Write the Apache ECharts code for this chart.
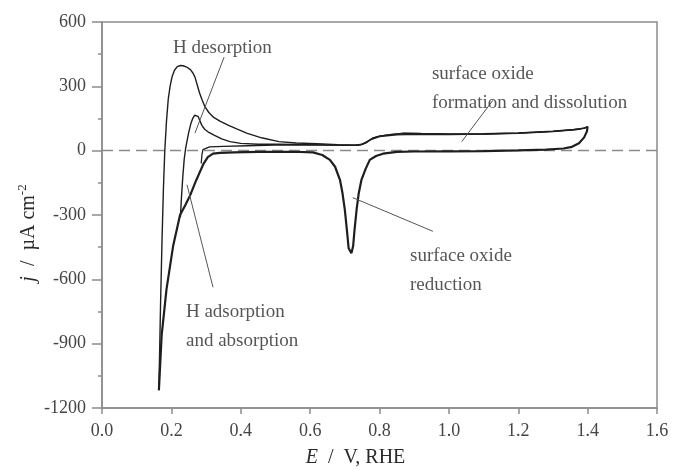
<!DOCTYPE html>
<html><head><meta charset="utf-8">
<script src="https://cdn.jsdelivr.net/npm/echarts@6/dist/echarts.min.js"></script>
<style>html,body{margin:0;padding:0;background:#fff}#c{width:673px;height:470px}</style>
</head><body><div id="c"></div>
<script>
// ---- data (E in V vs RHE, j in µA cm^-2) ----
const xTicks = [0.0,0.2,0.4,0.6,0.8,1.0,1.2,1.4,1.6];
const yTicks = [-1200,-900,-600,-300,0,300,600];

// outer cycle, anodic branch (lower limit ~0.164 V)
const outerAnodicE = [0.164,0.166,0.169,0.173,0.177,0.181,0.186,0.191,0.196,0.202,0.209,0.217,0.226,0.234,0.244,0.255,0.263,0.268,0.274,0.281,0.289,0.297,0.308,0.322,0.340,0.365,0.390,0.417,0.46,0.51,0.56,0.62,0.68,0.73,0.75,0.765,0.78,0.80,0.83,0.87,0.92,1.0,1.1,1.2,1.3,1.36,1.39,1.40];
const outerAnodicJ = [-1117,-950,-700,-420,-180,0,140,240,297,345,375,392,397,396,390,378,360,343,310,270,235,204,178,155,138,118,100,82,60,42,36,32,28,26,30,42,58,68,74,80,79,77,78,82,90,98,104,112];

// middle cycle, anodic branch (lower limit ~0.226 V)
const midAnodicE = [0.226,0.229,0.233,0.237,0.241,0.245,0.25,0.256,0.262,0.267,0.272,0.277,0.282,0.288,0.296,0.308,0.323,0.345,0.369,0.40,0.45,0.51,0.6,0.68,0.73,0.75,0.765,0.78,0.80,0.83,0.87,0.92,1.0,1.1,1.2,1.3,1.36,1.39,1.40];
const midAnodicJ = [-310,-220,-120,-40,10,45,85,125,152,165,168,160,140,118,100,85,72,55,42,34,30,30,28,26,25,29,42,58,68,75,82,80,78,79,83,91,99,105,112];

// inner cycle, anodic branch (lower limit ~0.286 V)
const innerAnodicE = [0.286,0.288,0.291,0.296,0.31,0.35,0.42,0.5,0.6,0.7,0.74,0.76,0.775,0.80,0.85,0.9,1.0,1.1,1.2,1.3,1.37,1.40];
const innerAnodicJ = [-60,-20,5,14,18,20,23,26,27,25,26,35,52,66,74,76,75,77,81,89,98,110];

// cathodic branch (shared by the cycles, from 1.40 V down to 0.164 V)
const cathodicE = [1.40,1.398,1.39,1.375,1.355,1.33,1.28,1.2,1.1,1.0,0.9,0.85,0.81,0.79,0.772,0.76,0.748,0.740,0.734,0.728,0.724,0.719,0.715,0.711,0.706,0.700,0.693,0.686,0.672,0.657,0.635,0.608,0.55,0.45,0.38,0.34,0.32,0.305,0.293,0.282,0.271,0.255,0.24,0.225,0.205,0.186,0.172,0.164];
const cathodicJ = [112,90,62,35,18,10,5,1,-2,-3,-4,-6,-14,-25,-43,-85,-136,-200,-275,-370,-445,-478,-486,-455,-370,-275,-195,-136,-75,-43,-20,-8,-5,-6,-8,-10,-14,-30,-60,-100,-140,-205,-255,-300,-445,-646,-860,-1117];

// annotation leader lines (data coordinates)
const leaderHdes = [[0.352,436],[0.268,82]];
const leaderHads = [[0.245,-159],[0.32,-637]];
const leaderOxForm = [[1.127,235],[1.037,42]];
const leaderOxRed = [[0.723,-219],[0.954,-376]];

// annotation texts with anchors (left edge, vertical middle)
const annotations = [
  {text:'H desorption', E:0.205, j:481},
  {text:'H adsorption\nand absorption', E:0.242, j:-820},
  {text:'surface oxide\nreduction', E:0.888, j:-560},
  {text:'surface oxide\nformation and dissolution', E:0.951, j:288}
];

const zip = (a,b) => a.map((v,i)=>[v,b[i]]);
const FONT = '"Liberation Serif","Times New Roman",serif';
const curveColor = '#1e1e1e';
const axisGray = '#8c8c8c';

const chart = echarts.init(document.getElementById('c'), null, {renderer:'canvas'});
const lineSeries = (data, width) => ({
  type:'line', data, showSymbol:false, symbol:'none', smooth:false,
  lineStyle:{color:curveColor, width}, silent:true, z:3
});
const leader = (data) => ({
  type:'line', data, showSymbol:false, symbol:'none',
  lineStyle:{color:'#555', width:1}, silent:true, z:4
});

chart.setOption({
  animation:false,
  backgroundColor:'#fff',
  grid:{left:102, right:16, top:22, bottom:62, show:true, borderColor:axisGray, borderWidth:1.5, backgroundColor:'transparent'},
  xAxis:{
    type:'value', min:0, max:1.6, interval:0.2,
    axisLine:{show:true, onZero:false, lineStyle:{color:axisGray, width:1.5}},
    axisTick:{show:true, length:6, lineStyle:{color:axisGray, width:1.5}},
    axisLabel:{fontSize:18, fontFamily:FONT, color:'#444', margin:14, formatter:v=>v.toFixed(1)},
    splitLine:{show:false}
  },
  yAxis:{
    type:'value', min:-1200, max:600, interval:300,
    axisLine:{show:true, onZero:false, lineStyle:{color:axisGray, width:1.5}},
    axisTick:{show:true, length:10, lineStyle:{color:axisGray, width:1.5}},
    minorTick:{show:true, splitNumber:2, length:4, lineStyle:{color:axisGray, width:1.5}},
    axisLabel:{fontSize:18, fontFamily:FONT, color:'#444', margin:16, formatter:v=>String(v)},
    splitLine:{show:false}
  },
  series:[
    Object.assign(lineSeries(zip(cathodicE,cathodicJ), 2.2), {
      markLine:{silent:true, symbol:'none', label:{show:false},
        lineStyle:{color:'#8a8a8a', type:[11,6], width:1.3},
        data:[{yAxis:0}], z:1}
    }),
    lineSeries(zip(outerAnodicE,outerAnodicJ), 1.4),
    lineSeries(zip(midAnodicE,midAnodicJ), 1.4),
    lineSeries(zip(innerAnodicE,innerAnodicJ), 1.3),
    leader(leaderHdes), leader(leaderHads), leader(leaderOxForm), leader(leaderOxRed),
    {
      type:'scatter', symbolSize:0, silent:true, z:5,
      data: annotations.map(a=>({value:[a.E,a.j], name:a.text})),
      label:{show:true, position:'right', distance:0, formatter:p=>p.name,
        fontFamily:FONT, fontSize:19, color:'#2a2a2a', lineHeight:29, align:'left'}
    }
  ]
});

// axis names, placed relative to the plot area
const pxCenter = chart.convertToPixel({gridIndex:0}, [0.8, -300]);
const base = {fontFamily:FONT, fontSize:20, fill:'#2a2a2a'};
chart.setOption({graphic:[
  {type:'text', x:29, y:233, rotation:Math.PI/2,
    style:Object.assign({}, base, {
      text:'{i|j}{n|  /  µA cm}{s|-2}', align:'center', verticalAlign:'middle',
      rich:{
        i:Object.assign({}, base, {fontStyle:'italic'}),
        n:Object.assign({}, base),
        s:Object.assign({}, base, {fontSize:13, padding:[0,0,12,0]})
      }})},
  {type:'text', x:pxCenter[0]-24, y:458,
    style:Object.assign({}, base, {
      text:'{i|E}{n|  /  V, RHE}', align:'center', verticalAlign:'middle',
      rich:{
        i:Object.assign({}, base, {fontStyle:'italic'}),
        n:Object.assign({}, base)
      }})}
]});
</script></body></html>
